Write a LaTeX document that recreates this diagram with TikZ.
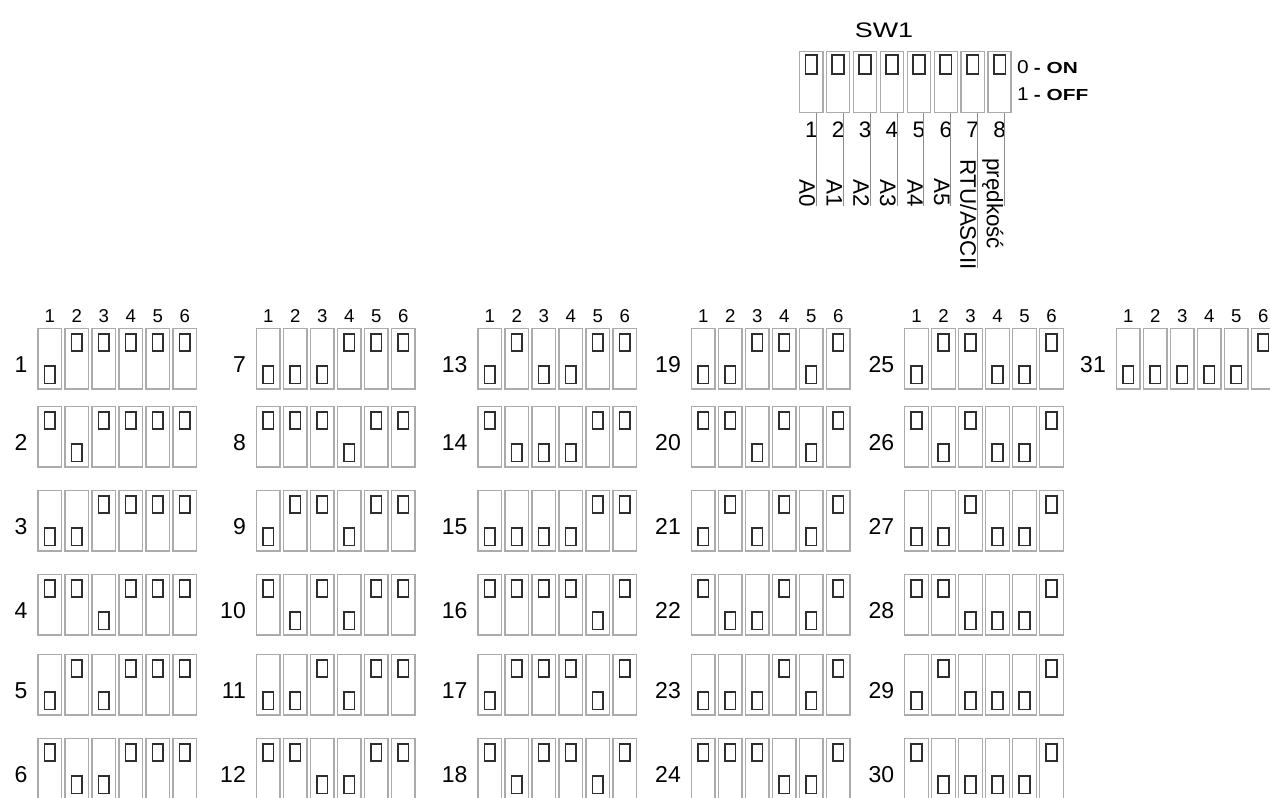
\documentclass[tikz,border=0pt]{standalone}
\usepackage{fontspec}
\setmainfont{Liberation Sans}
\usepackage{graphicx}
\usepackage{tikz}
\usetikzlibrary{positioning}

\definecolor{cellgray}{HTML}{ABABAB}
\definecolor{knobgray}{HTML}{2E2E2E}
\definecolor{sepgray}{HTML}{8C8C8C}

\tikzset{
  cell/.style={draw=cellgray, line width=1.4pt, rectangle, inner sep=0pt, minimum width=23.6pt, minimum height=60.6pt, anchor=north west},
  knob/.style={draw=knobgray, line width=1.7pt, rectangle, inner sep=0pt, minimum width=10.6pt, minimum height=17.3pt},
  hdr/.style={inner sep=0pt, anchor=base, font=\fontsize{18.6}{20}\selectfont},
  rowlbl/.style={inner sep=0pt, anchor=base east, font=\fontsize{23}{26}\selectfont},
  swnum/.style={inner sep=0pt, anchor=base, font=\fontsize{22.4}{25}\selectfont},
  swlbl/.style={inner sep=0pt, anchor=north west, rotate=-90, font=\fontsize{22.4}{25}\selectfont},
  sep/.style={draw=sepgray, line width=1pt}
}

\begin{document}
\begin{tikzpicture}[x=1pt, y=-1pt]
\useasboundingbox (0,0) rectangle (1270,798);
\clip (0,0) rectangle (1270,798);

\node[inner sep=0pt, anchor=base, font=\fontsize{21}{24}\selectfont] (sw1) at (884,37) {\scalebox{1.28}[1]{SW1}};
\foreach \i/\lbl/\ys/\ye in {1/A0/179/206, 2/A1/179/206, 3/A2/179/206, 4/A3/179/206, 5/A4/179/206, 6/A5/178/206, 7/{RTU/ASCII}/159/268, 8/{prędkość}/158/206}{
  \pgfmathsetmacro\lx{816.3+26.9*(\i-1)}
  \node[cell, minimum width=23.1pt, minimum height=61.1pt] (sw\i) at (798.3+26.9*\i-26.9+0.7, 50.7) {};
  \node[knob, minimum width=11.7pt, minimum height=19pt, anchor=north] (swk\i) at ([yshift=-3.45pt]sw\i.north) {};
  \node[swnum] (swn\i) at ([yshift=-24.2pt]sw\i.south) {\i};
  \draw[sep] (\lx,112.5) -- (\lx,\ye);
  \node[swlbl] (swl\i) at (\lx-1,\ys) {\lbl};
}
\node[inner sep=0pt, anchor=base west, font=\fontsize{18.6}{20}\selectfont] (on) at (1017,73) {\scalebox{1.12}[1]{0} \scalebox{1.3}[1]{\fontsize{16}{18}\selectfont\bfseries - ON}};
\node[inner sep=0pt, anchor=base west, font=\fontsize{18.6}{20}\selectfont] (off) at (1017,100) {\scalebox{1.12}[1]{1} \scalebox{1.3}[1]{\fontsize{16}{18}\selectfont\bfseries - OFF}};

\foreach \col/\cx in {0/36.7, 1/255, 2/476.7, 3/690, 4/903.3, 5/1115}{
  \foreach \row/\ry in {0/327, 1/405, 2/489, 3/573, 4/653, 5/737}{
    \pgfmathtruncatemacro\addr{6*\col+\row+1}
    \ifnum\addr<32
      \foreach \i in {1,...,6}{
        \pgfmathtruncatemacro\bit{mod(floor(\addr/2^(\i-1)),2)}
        \node[cell] (s\addr-\i) at (\cx+27*\i-27+0.7, \ry+0.7) {};
        \ifnum\bit=1
          \node[knob, anchor=south] (k\addr-\i) at ([yshift=5.5pt]s\addr-\i.south) {};
        \else
          \node[knob, anchor=north] (k\addr-\i) at ([yshift=-5.2pt]s\addr-\i.north) {};
        \fi
        \ifnum\row=0
          \node[hdr] (h\addr-\i) at ([yshift=5.7pt]s\addr-\i.north) {\i};
        \fi
      }
      \node[rowlbl] (n\addr) at ([xshift=-9.7pt, yshift=-44.3pt]s\addr-1.north west) {\addr};
    \fi
  }
}
\end{tikzpicture}
\end{document}
